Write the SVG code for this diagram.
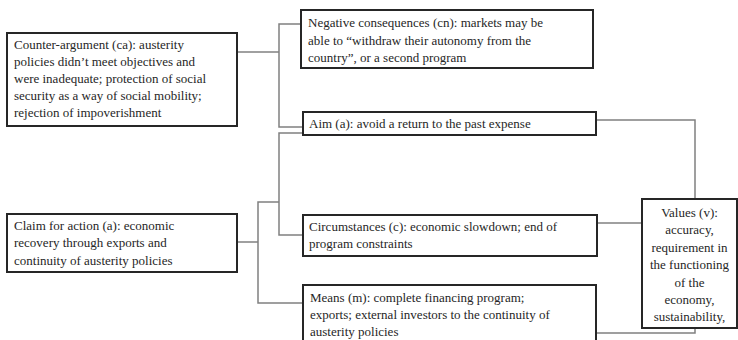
<svg xmlns="http://www.w3.org/2000/svg" width="738" height="340" viewBox="0 0 738 340">
<style>
.box{fill:#fff;stroke:#262626;stroke-width:2}
.c{fill:none;stroke:#808080;stroke-width:1.5}
text{font-family:"Liberation Serif","Times New Roman",serif;font-size:13px;fill:#262626}
.m{text-anchor:middle}
</style>
<rect width="738" height="340" fill="#fff"/>
<g id="connectors">
<polyline class="c" points="237,52 279,52"/>
<polyline class="c" points="301,24 279,24 279,127 303,127"/>
<polyline class="c" points="237,242 258,242"/>
<polyline class="c" points="279,202 258,202 258,303 303,303"/>
<polyline class="c" points="303,133 279,133 279,235 303,235"/>
<polyline class="c" points="596,120 695,120 695,199"/>
<polyline class="c" points="597,223 642,223"/>
<polyline class="c" points="596,333 695,333 695,328"/>
</g>
<g id="counter">
<rect class="box" x="7" y="33" width="230" height="93"/>
<text x="14" y="49">Counter-argument (ca): austerity</text>
<text x="14" y="66">policies didn’t meet objectives and</text>
<text x="14" y="83">were inadequate; protection of social</text>
<text x="14" y="100">security as a way of social mobility;</text>
<text x="14" y="117">rejection of impoverishment</text>
</g>
<g id="negative">
<rect class="box" x="301" y="10" width="292" height="58"/>
<text x="308" y="27">Negative consequences (cn): markets may be</text>
<text x="308" y="45">able to “withdraw their autonomy from the</text>
<text x="308" y="62">country”, or a second program</text>
</g>
<g id="claim">
<rect class="box" x="7" y="214" width="230" height="58"/>
<text x="14" y="230">Claim for action (a): economic</text>
<text x="14" y="247">recovery through exports and</text>
<text x="14" y="265">continuity of austerity policies</text>
</g>
<g id="aim">
<rect class="box" x="303" y="112" width="293" height="23"/>
<text x="309" y="128">Aim (a): avoid a return to the past expense</text>
</g>
<g id="circumstances">
<rect class="box" x="303" y="215" width="294" height="41"/>
<text x="309" y="231">Circumstances (c): economic slowdown; end of</text>
<text x="309" y="248">program constraints</text>
</g>
<g id="means">
<rect class="box" x="303" y="285" width="293" height="60"/>
<text x="310" y="302">Means (m): complete financing program;</text>
<text x="310" y="319">exports; external investors to the continuity of</text>
<text x="310" y="336">austerity policies</text>
</g>
<g id="values">
<rect class="box" x="642" y="199" width="95" height="129"/>
<text class="m" x="689.5" y="217">Values (v):</text>
<text class="m" x="689.5" y="234">accuracy,</text>
<text class="m" x="689.5" y="252">requirement in</text>
<text class="m" x="689.5" y="269">the functioning</text>
<text class="m" x="689.5" y="287">of the</text>
<text class="m" x="689.5" y="304">economy,</text>
<text class="m" x="689.5" y="321">sustainability,</text>
</g>
</svg>
